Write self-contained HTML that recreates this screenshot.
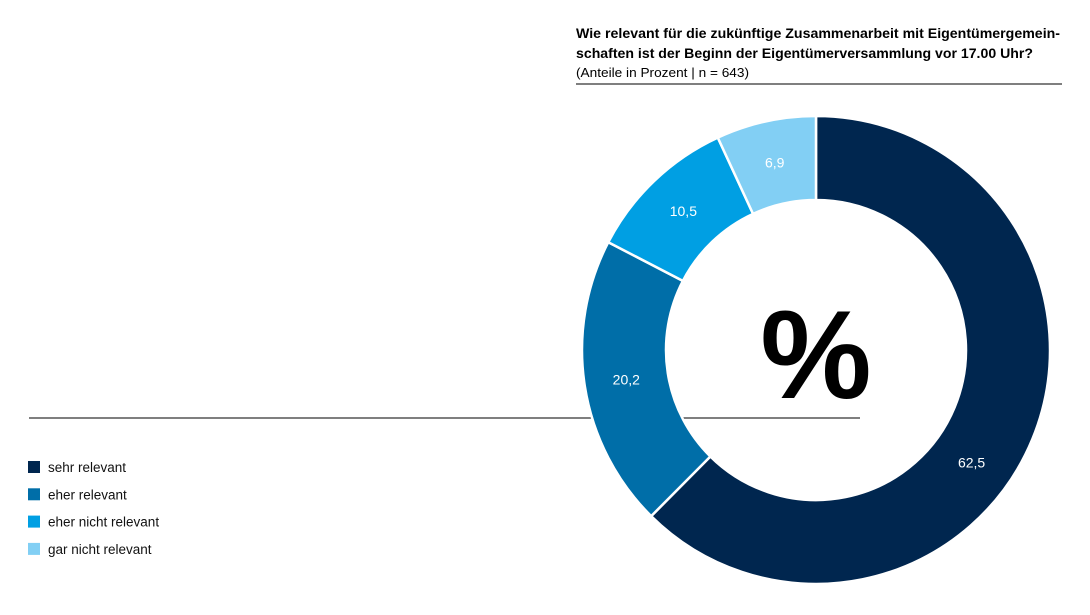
<!DOCTYPE html>
<html><head><meta charset="utf-8"><style>
html,body{margin:0;padding:0;background:#fff;}
svg{display:block;font-family:"Liberation Sans",sans-serif;}
</style></head><body>
<svg id="chart" width="1090" height="615" viewBox="0 0 1090 615">
  <text x="576" y="38" font-size="13.5" font-weight="bold" fill="#000" textLength="484" lengthAdjust="spacingAndGlyphs">Wie relevant für die zukünftige Zusammenarbeit mit Eigentümergemein-</text>
  <text x="576" y="58" font-size="13.5" font-weight="bold" fill="#000" textLength="457" lengthAdjust="spacingAndGlyphs">schaften ist der Beginn der Eigentümerversammlung vor 17.00 Uhr?</text>
  <text x="576" y="77" font-size="13" fill="#000" textLength="173" lengthAdjust="spacingAndGlyphs">(Anteile in Prozent | n = 643)</text>
  <line x1="576" y1="84" x2="1062" y2="84" stroke="#333" stroke-width="1.2"/>
  <line x1="29" y1="418" x2="860" y2="418" stroke="#333" stroke-width="1.2"/>
  <g id="slices"></g>
  <g id="labels"></g>
  <text x="816" y="398" font-size="125" font-weight="bold" text-anchor="middle" fill="#000">%</text>
  <g id="legend"></g>
</svg>
<script>
const categories = ["sehr relevant", "eher relevant", "eher nicht relevant", "gar nicht relevant"];
const values = [62.5, 20.2, 10.5, 6.9];
const valueLabels = ["62,5", "20,2", "10,5", "6,9"];
const colors = ["#00264f", "#006ea8", "#009fe3", "#82cff4"];

const NS = "http://www.w3.org/2000/svg";
const cx = 816, cy = 350, R = 234, r = 150;
const total = values.reduce((a, b) => a + b, 0);
function pt(rad, frac) {
  const a = frac * 2 * Math.PI;
  return [cx + rad * Math.sin(a), cy - rad * Math.cos(a)];
}
const sg = document.getElementById("slices");
const lg = document.getElementById("labels");
let acc = 0;
values.forEach((v, i) => {
  const f0 = acc / total, f1 = (acc + v) / total;
  acc += v;
  const large = (f1 - f0) > 0.5 ? 1 : 0;
  const [x0, y0] = pt(R, f0), [x1, y1] = pt(R, f1);
  const [x2, y2] = pt(r, f1), [x3, y3] = pt(r, f0);
  const p = document.createElementNS(NS, "path");
  p.setAttribute("d", `M${x0},${y0} A${R},${R} 0 ${large} 1 ${x1},${y1} L${x2},${y2} A${r},${r} 0 ${large} 0 ${x3},${y3} Z`);
  p.setAttribute("fill", colors[i]);
  p.setAttribute("stroke", "#fff");
  p.setAttribute("stroke-width", "2.5");
  
  
  sg.appendChild(p);
  const mid = i === 0 ? f0 + (f1 - f0) * 0.56 : (f0 + f1) / 2;
  const [lx, ly] = pt(192, mid);
  const t = document.createElementNS(NS, "text");
  t.setAttribute("x", lx);
  t.setAttribute("y", ly + 5);
  t.setAttribute("text-anchor", "middle");
  t.setAttribute("font-size", "14");
  t.setAttribute("fill", "#fff");
  t.textContent = valueLabels[i];
  
  
  lg.appendChild(t);
});
const leg = document.getElementById("legend");
categories.forEach((c, i) => {
  const y = 461 + i * 27.3;
  const s = document.createElementNS(NS, "rect");
  s.setAttribute("x", 28); s.setAttribute("y", y);
  s.setAttribute("width", 12); s.setAttribute("height", 12);
  s.setAttribute("fill", colors[i]);
  
  
  leg.appendChild(s);
  const t = document.createElementNS(NS, "text");
  t.setAttribute("x", 48); t.setAttribute("y", y + 11);
  t.setAttribute("font-size", "13.5");
  t.setAttribute("fill", "#111");
  t.textContent = c;
  
  
  leg.appendChild(t);
});
</script>
</body></html>
